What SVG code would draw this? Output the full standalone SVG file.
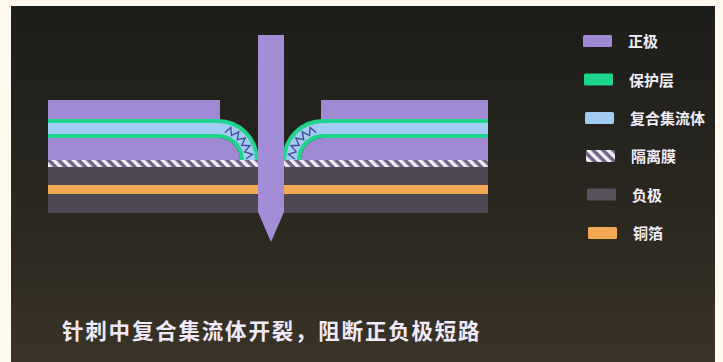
<svg xmlns="http://www.w3.org/2000/svg" width="723" height="362" viewBox="0 0 723 362">
  <defs>
    <linearGradient id="bg" x1="0" y1="0" x2="0" y2="1">
      <stop offset="0" stop-color="#1d1d1b"/>
      <stop offset="0.55" stop-color="#29271f"/>
      <stop offset="1" stop-color="#3b3327"/>
    </linearGradient>
    <pattern id="hatch" patternUnits="userSpaceOnUse" width="7" height="7" patternTransform="rotate(-45)">
      <rect width="7" height="7" fill="#6d6486"/>
      <rect width="3.5" height="7" fill="#f2eef8"/>
    </pattern>
  </defs>
  <style>
    .pos { fill: #9e89d2; }
    .green { fill: #1fd58c; }
    .blue { fill: #a3ccf3; }
    .neg { fill: #4d4853; }
    .cu { fill: #f4aa55; }
    .sep { fill: url(#hatch); }
    .crack { fill: none; stroke: #474c9a; stroke-width: 1.4; stroke-linejoin: miter; }
    .lbl { font-family: "Noto Sans CJK SC", "Noto Sans", sans-serif; font-weight: 700; font-size: 15px; fill: #f3eefa; }
    .cap { font-family: "Noto Sans CJK SC", "Noto Sans", sans-serif; font-weight: 700; font-size: 21.5px; fill: #f1eafb; letter-spacing: 1.8px; }
  </style>

  <!-- frame and backdrop -->
  <rect width="723" height="362" fill="#fff9ee"/>
  <rect x="11" y="6" width="704" height="356" fill="url(#bg)"/>

  <!-- lower cell: negative electrode with copper foil -->
  <g id="negative">
    <rect class="neg" x="48" y="167" width="440" height="46"/>
    <rect class="cu" x="48" y="185" width="440" height="9"/>
  </g>

  <!-- separator -->
  <g id="separator">
    <rect class="sep" x="48" y="160" width="440" height="7"/>
  </g>

  <!-- left positive stack, composite collector bent toward the puncture -->
  <g id="left-stack">
    <rect class="pos" x="48" y="100" width="172" height="20"/>
    <path class="pos" d="M48 138 H218 A22 22 0 0 1 240 160 H48 Z"/>
    <path class="green" d="M48 119 H218 A41 41 0 0 1 259 160 H240 A22 22 0 0 0 218 138 H48 Z"/>
    <path class="blue" d="M48 123 H218 A37 37 0 0 1 255 160 H244 A26 26 0 0 0 218 134 H48 Z"/>
    <polyline class="crack" points="224.8,132.8 230.8,127.4 231.5,135.5 238.7,131.8 237.3,139.7 245.2,138.0 241.8,145.3 249.9,145.7 244.8,151.9 252.5,154.3 246.0,159.0"/>
  </g>

  <!-- right positive stack -->
  <g id="right-stack">
    <rect class="pos" x="321" y="100" width="167" height="20"/>
    <path class="pos" d="M488 138 H323 A22 22 0 0 0 301 160 H488 Z"/>
    <path class="green" d="M488 119 H323 A41 41 0 0 0 282 160 H301 A22 22 0 0 1 323 138 H488 Z"/>
    <path class="blue" d="M488 123 H323 A37 37 0 0 0 286 160 H297 A26 26 0 0 1 323 134 H488 Z"/>
    <polyline class="crack" points="316.2,132.8 310.2,127.4 309.5,135.5 302.3,131.8 303.7,139.7 295.8,138.0 299.2,145.3 291.1,145.7 296.2,151.9 288.5,154.3 295.0,159.0"/>
  </g>

  <!-- needle -->
  <g id="needle">
    <polygon points="258,35 284,35 284,212 271,242 258,212" fill="#a28dd6"/>
  </g>

  <!-- legend -->
  <g id="legend-positive">
    <rect class="pos" x="583" y="35" width="29" height="12" rx="1.5"/>
    <text class="lbl" x="628" y="47">正极</text>
  </g>
  <g id="legend-protective">
    <rect class="green" x="584" y="73.5" width="29" height="12" rx="1.5"/>
    <text class="lbl" x="629" y="85.5">保护层</text>
  </g>
  <g id="legend-collector">
    <rect class="blue" x="585" y="112" width="29" height="12" rx="1.5"/>
    <text class="lbl" x="630" y="124">复合集流体</text>
  </g>
  <g id="legend-separator">
    <rect class="sep" x="586" y="150" width="29" height="12" rx="1.5"/>
    <text class="lbl" x="631" y="162">隔离膜</text>
  </g>
  <g id="legend-negative">
    <rect x="587" y="188.5" width="29" height="12" rx="1.5" fill="#57525c"/>
    <text class="lbl" x="632" y="200.5">负极</text>
  </g>
  <g id="legend-copper">
    <rect class="cu" x="588" y="227" width="29" height="12" rx="1.5"/>
    <text class="lbl" x="633" y="239">铜箔</text>
  </g>

  <!-- caption -->
  <g id="caption">
    <text class="cap" x="62" y="339">针刺中复合集流体开裂，阻断正负极短路</text>
  </g>
</svg>
